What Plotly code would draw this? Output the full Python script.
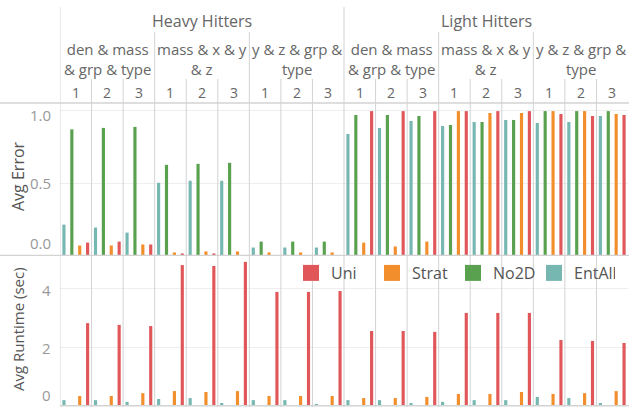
import plotly.graph_objects as go

# ---------------- data ----------------
groups = ["Heavy Hitters", "Light Hitters"]
subgroups = ["den & mass<br>& grp & type", "mass & x & y<br>& z", "y & z & grp &<br>type"]
columns = ["1", "2", "3"]
series = ["EntAll", "No2D", "Strat", "Uni"]          # left-to-right order inside a column
legend_order = ["Uni", "Strat", "No2D", "EntAll"]
colors = {"Uni": "#e15759", "Strat": "#f28e2b", "No2D": "#59a14f", "EntAll": "#76b7b2"}

err_entall = [0.213, 0.193, 0.158, 0.502, 0.516, 0.516, 0.055, 0.055, 0.055,
              0.839, 0.881, 0.929, 0.894, 0.922, 0.936, 0.915, 0.922, 0.963]
err_no2d = [0.871, 0.881, 0.888, 0.626, 0.633, 0.640, 0.096, 0.096, 0.096,
            0.970, 0.970, 0.963, 0.901, 0.922, 0.936, 0.997, 0.997, 0.997]
err_strat = [0.069, 0.069, 0.076, 0.021, 0.028, 0.028, 0.021, 0.021, 0.021,
             0.089, 0.062, 0.096, 0.997, 0.984, 0.984, 0.997, 0.997, 0.977]
err_uni = [0.089, 0.096, 0.076, 0.014, 0.014, 0.0, 0.0, 0.0, 0.0,
           0.997, 0.997, 0.997, 0.997, 0.997, 0.997, 0.977, 0.963, 0.970]

rt_entall = [0.19, 0.19, 0.13, 0.23, 0.26, 0.09, 0.19, 0.19, 0.06,
             0.19, 0.19, 0.09, 0.13, 0.19, 0.19, 0.30, 0.26, 0.09]
rt_no2d = [None] * 18
rt_strat = [0.33, 0.33, 0.43, 0.50, 0.47, 0.50, 0.33, 0.33, 0.33,
            0.26, 0.26, 0.30, 0.40, 0.40, 0.47, 0.40, 0.43, 0.50]
rt_uni = [2.83, 2.77, 2.73, 4.82, 4.79, 4.93, 3.90, 3.90, 3.93,
          2.56, 2.56, 2.53, 3.18, 3.18, 3.18, 2.25, 2.22, 2.15]

err_ticks = [0.0, 0.5, 1.0]
err_ticktext = ["0.0", "0.5", "1.0"]
rt_ticks = [0, 2, 4]
rt_ticktext = ["0", "2", "4"]

err_vals = {"EntAll": err_entall, "No2D": err_no2d, "Strat": err_strat, "Uni": err_uni}
rt_vals = {"EntAll": rt_entall, "No2D": rt_no2d, "Strat": rt_strat, "Uni": rt_uni}

# ---------------- layout geometry ----------------
W, H = 629, 407
ML, MR, MT, MB = 60, 1, 103, 0
PW, PH = W - ML - MR, H - MT - MB
def py(p):  # pixel row -> paper y
    return (H - MB - p) / PH
def px(p):  # pixel col -> paper x
    return (p - ML) / PW

FONT = "Open Sans"
ncol = len(groups) * len(subgroups) * len(columns)
xs = list(range(ncol))

fig = go.Figure()
for s in series:
    fig.add_trace(go.Bar(x=xs, y=err_vals[s], marker_color=colors[s], marker_line_width=0,
                         name=s, showlegend=False, xaxis="x", yaxis="y2", hoverinfo="skip"))
for s in series:
    fig.add_trace(go.Bar(x=xs, y=rt_vals[s], marker_color=colors[s], marker_line_width=0,
                         name=s, showlegend=False, xaxis="x", yaxis="y", hoverinfo="skip"))
for s in legend_order:
    fig.add_trace(go.Scatter(x=[None], y=[None], mode="markers", name=s,
                             marker=dict(symbol="square", size=16, color=colors[s]),
                             xaxis="x", yaxis="y", showlegend=True))

line_c = "#d3d3d3"
shapes = []
# vertical separators
for k in range(ncol):
    if k % 9 == 0:
        top = 7
    elif k % 3 == 0:
        top = 32
    else:
        top = 79
    shapes.append(dict(type="line", xref="x", yref="paper", x0=k - 0.5, x1=k - 0.5,
                       y0=0, y1=py(top), line=dict(color=line_c, width=1)))
# horizontal separators
shapes.append(dict(type="line", xref="paper", yref="paper", x0=px(0), x1=1.002,
                   y0=1, y1=1, line=dict(color=line_c, width=1.5)))
shapes.append(dict(type="line", xref="paper", yref="y2", x0=px(0), x1=1.002,
                   y0=0, y1=0, line=dict(color=line_c, width=1.5)))
shapes.append(dict(type="line", xref="paper", yref="y", x0=0, x1=1.002,
                   y0=0, y1=0, line=dict(color=line_c, width=1.5)))

ann = []
hdr_c = "#666666"
for gi, g in enumerate(groups):
    ann.append(dict(text=g, xref="x", yref="paper", x=gi * 9 + 4, y=py(21), showarrow=False,
                    font=dict(family=FONT, size=16, color=hdr_c), xanchor="center", yanchor="middle"))
    for si, sg in enumerate(subgroups):
        ann.append(dict(text=sg, xref="x", yref="paper", x=gi * 9 + si * 3 + 1, y=py(59),
                        showarrow=False, font=dict(family=FONT, size=15, color=hdr_c),
                        xanchor="center", yanchor="middle"))
        for ci, c in enumerate(columns):
            ann.append(dict(text=c, xref="x", yref="paper", x=gi * 9 + si * 3 + ci, y=py(93),
                            showarrow=False, font=dict(family=FONT, size=14, color=hdr_c),
                            xanchor="center", yanchor="middle"))

tick_c = "#999999"
for v, t in zip(err_ticks, err_ticktext):
    ya = "bottom" if v == err_ticks[0] else ("top" if v == err_ticks[-1] else "middle")
    ann.append(dict(text=t, xref="paper", yref="y2", x=px(53), y=v, xanchor="right", yanchor=ya,
                    yshift=(0 if ya != "top" else 8), showarrow=False,
                    font=dict(family=FONT, size=15, color=tick_c)))
for v, t in zip(rt_ticks, rt_ticktext):
    ya = "bottom" if v == rt_ticks[0] else "middle"
    ann.append(dict(text=t, xref="paper", yref="y", x=px(53), y=v, xanchor="right", yanchor=ya,
                    yshift=-1, showarrow=False,
                    font=dict(family=FONT, size=15, color=tick_c)))

title_c = "#555555"
ann.append(dict(text="Avg Error", xref="paper", yref="paper", x=px(18), y=py(176), textangle=-90,
                showarrow=False, font=dict(family=FONT, size=16, color=title_c),
                xanchor="center", yanchor="middle"))
ann.append(dict(text="Avg Runtime (sec)", xref="paper", yref="paper", x=px(18), y=py(329), textangle=-90,
                showarrow=False, font=dict(family=FONT, size=15, color=title_c),
                xanchor="center", yanchor="middle"))

split = 151 / PH
fig.update_layout(
    width=W, height=H, margin=dict(l=ML, r=MR, t=MT, b=MB),
    plot_bgcolor="white", paper_bgcolor="white",
    barmode="group", bargap=0.0, bargroupgap=0.6,
    xaxis=dict(range=[-0.5, ncol - 0.5], visible=False, fixedrange=True),
    yaxis=dict(domain=[0, split], range=[-0.045, 5.131], tickvals=[2, 4], showticklabels=False,
               gridcolor="#eeeeee", gridwidth=1, zeroline=False, ticks="", fixedrange=True),
    yaxis2=dict(domain=[split, 1], range=[-0.0035, 1.053], tickvals=[0.5, 1.0], showticklabels=False,
                gridcolor="#eeeeee", gridwidth=1, zeroline=False, ticks="", fixedrange=True),
    shapes=shapes, annotations=ann,
    legend=dict(orientation="h", x=px(291), y=py(256), xanchor="left", yanchor="top",
                font=dict(family=FONT, size=16, color="#555555"), bgcolor="rgba(0,0,0,0)",
                entrywidth=36, entrywidthmode="pixels", itemclick=False, itemdoubleclick=False),
    showlegend=True,
)

fig.write_html("out.html", config={"displayModeBar": False},
               post_script="document.body.style.margin='0';document.body.style.padding='0';")
